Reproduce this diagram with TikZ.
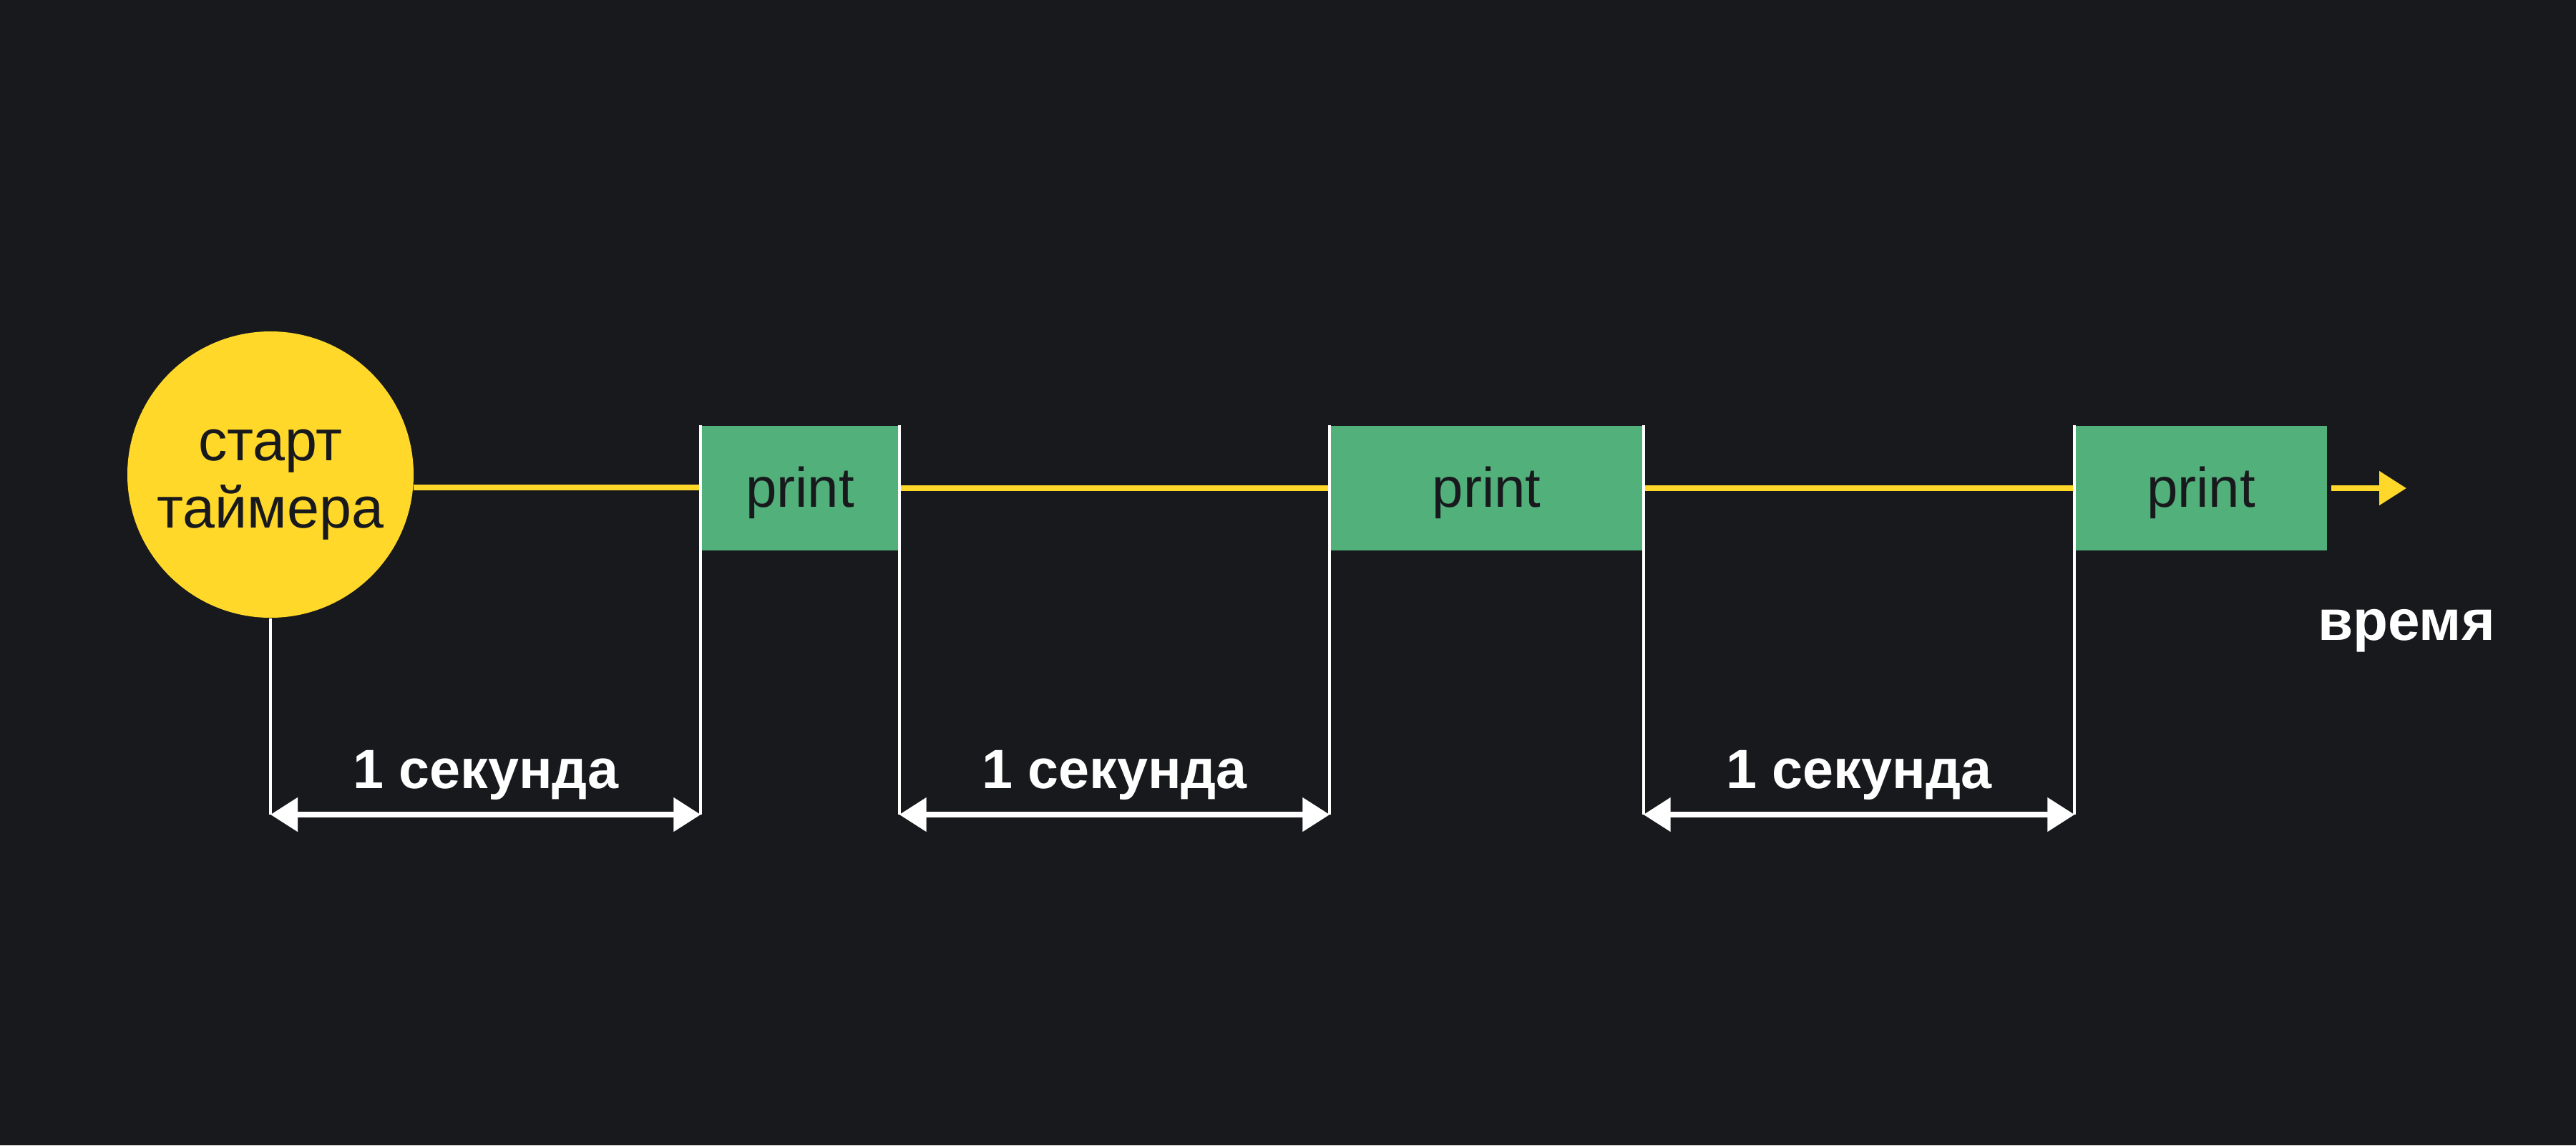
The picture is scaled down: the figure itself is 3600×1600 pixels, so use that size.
\documentclass[tikz,border=0pt]{standalone}
\usepackage{fontspec}
\setmainfont{Liberation Sans}
\usetikzlibrary{arrows.meta}
\definecolor{bgc}{HTML}{18191D}
\definecolor{tyellow}{HTML}{FFD829}
\definecolor{tgreen}{HTML}{52B07A}
\definecolor{tdark}{HTML}{18191D}
\newcommand{\ptxt}{\raisebox{-2.6mm}[0pt][0pt]{print}}
\tikzset{
  yline/.style={draw=tyellow, line width=0.8mm},
  wline/.style={draw=white, line width=0.4mm},
  darrow/.style={draw=white, line width=0.8mm, {Triangle[length=3.8mm,width=4.6mm]}-{Triangle[length=3.8mm,width=4.6mm]}},
  pbox/.style={fill=tgreen, inner sep=0pt, minimum height=17.4mm, text=tdark,
    font=\fontsize{22.2pt}{26pt}\selectfont},
  lbl/.style={text=white, inner sep=0pt, font=\bfseries\fontsize{22pt}{26pt}\selectfont},
}
\begin{document}
\begin{tikzpicture}[x=0.1mm,y=-0.1mm]
\fill[bgc] (0,0) rectangle (3600,1600);
\useasboundingbox (0,0) rectangle (3600,1600);
% time axis level
\coordinate (base) at (0,1138);
% start circle
\node[circle, fill=tyellow, inner sep=0pt, minimum size=40mm] (start) at (378,663) {};
\node[text=tdark, inner sep=0pt, align=center, font=\fontsize{23pt}{26.7pt}\selectfont] (starttext) at (378,677) {старт\\таймера};
% print boxes
\node[pbox, minimum width=27.6mm] (p1) at (1118,682) {\ptxt};
\node[pbox, minimum width=43.7mm] (p2) at (2077.5,682) {\ptxt};
\node[pbox, minimum width=35.2mm] (p3) at (3076,682) {\ptxt};
% yellow timeline
\draw[yline] (start.-5.45) -- (start.-5.45 -| p1.west);
\draw[yline] (p1.east) -- (p2.west);
\draw[yline] (p2.east) -- (p3.west);
\coordinate (tend) at (3363,682);
\draw[yline, -{Triangle[length=3.8mm,width=4.6mm]}] ([xshift=0.5mm]p3.east) -- (tend);
\node[lbl, anchor=base, font=\bfseries\fontsize{22.8pt}{26pt}\selectfont] (time) at (3363,894) {время};
% white verticals
\draw[wline] (start.south) -- (start.south |- base);
\draw[wline] (p1.north west) -- (p1.north west |- base);
\draw[wline] (p1.north east) -- (p1.north east |- base);
\draw[wline] (p2.north west) -- (p2.north west |- base);
\draw[wline] (p2.north east) -- (p2.north east |- base);
\draw[wline] (p3.north west) -- (p3.north west |- base);
% interval arrows
\draw[darrow] (start.south |- base) -- node[lbl, anchor=base, yshift=3.7mm] (l1) {1 секунда} (p1.west |- base);
\draw[darrow] (p1.east |- base) -- node[lbl, anchor=base, yshift=3.7mm] (l2) {1 секунда} (p2.west |- base);
\draw[darrow] (p2.east |- base) -- node[lbl, anchor=base, yshift=3.7mm] (l3) {1 секунда} (p3.west |- base);
\end{tikzpicture}
\end{document}
